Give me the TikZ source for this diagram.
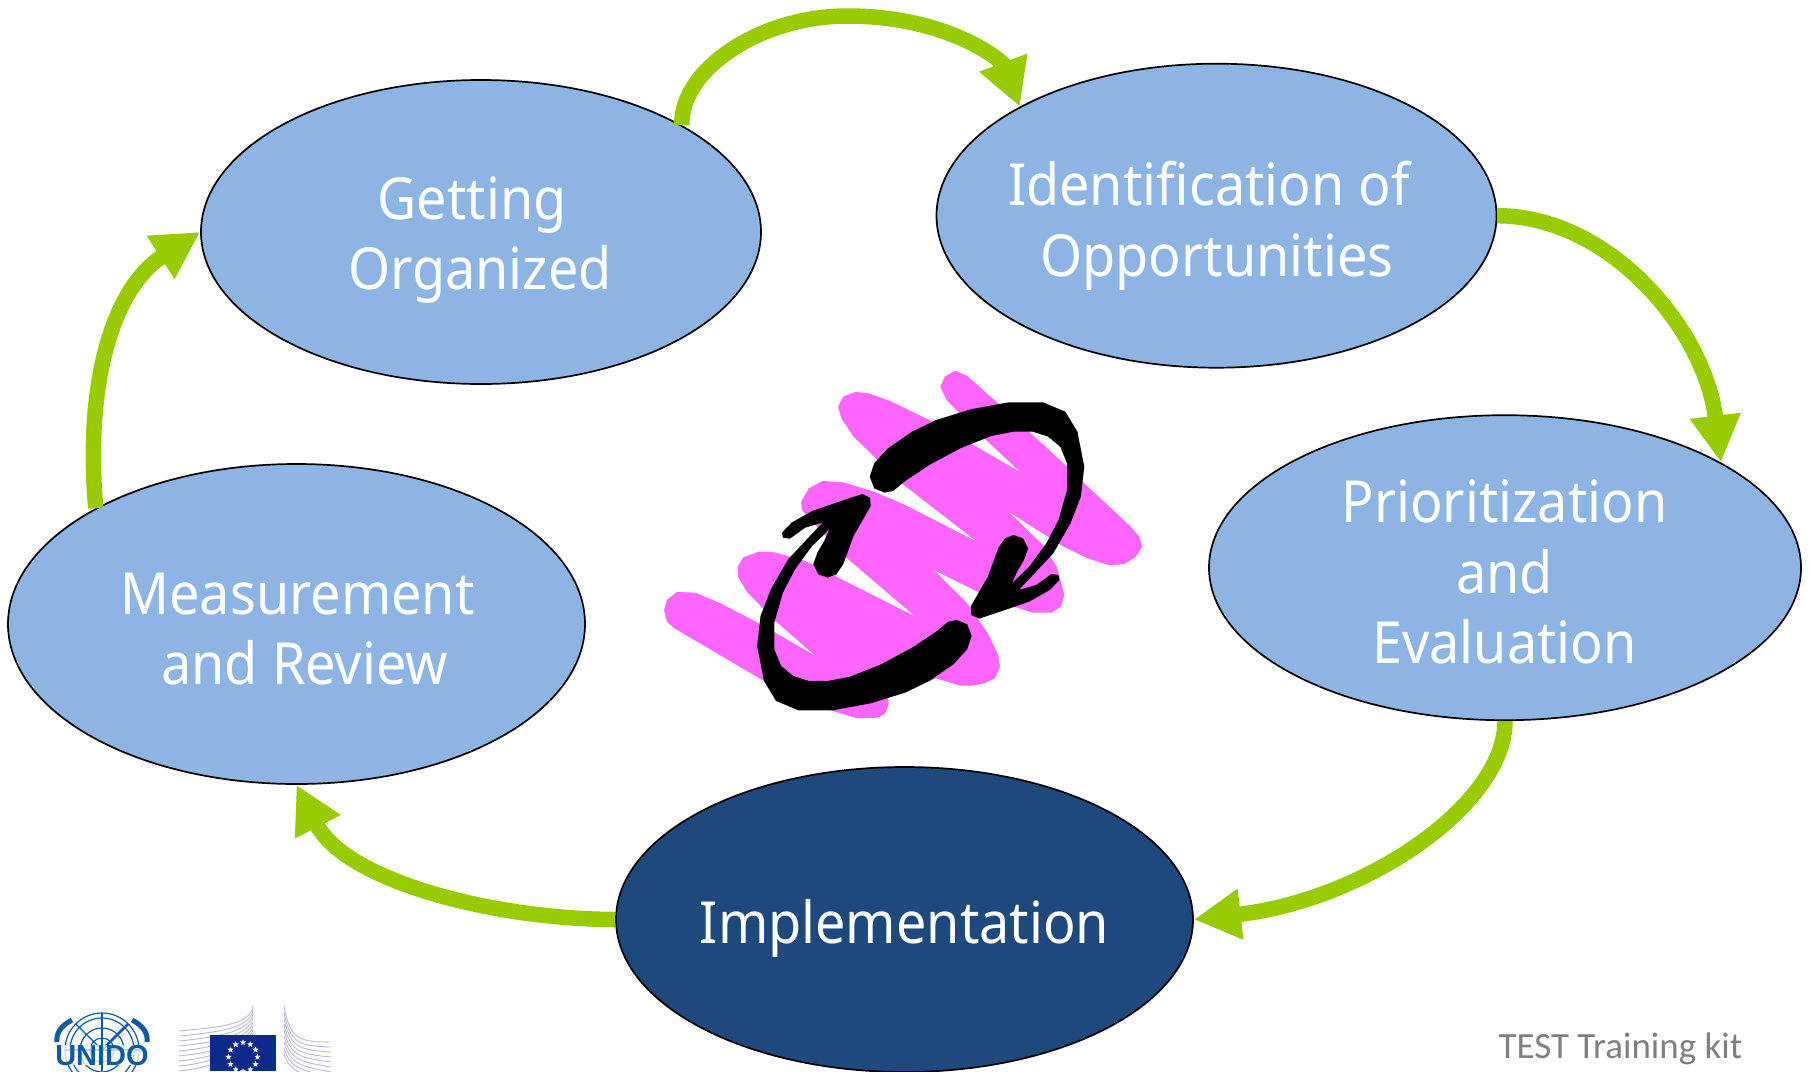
\documentclass[tikz,border=0pt]{standalone}
\usepackage{fontspec}
\setmainfont[FakeStretch=0.93]{Noto Sans}
\newfontfamily\calibrifont{Carlito}
\newfontfamily\logofont{Liberation Sans}
\usetikzlibrary{shapes.geometric,arrows.meta}
\definecolor{nodeblue}{HTML}{8EB4E3}
\definecolor{darkblue}{HTML}{1F497D}
\definecolor{arrowgreen}{HTML}{99CC00}
\definecolor{scribble}{HTML}{FF66FF}
\definecolor{unidoblue}{HTML}{0F5AA5}
\definecolor{eublue}{HTML}{0B2A8A}
\definecolor{bldg}{HTML}{B9BAD6}
\definecolor{kitgrey}{HTML}{808080}
\tikzset{
  stage/.style={ellipse,draw=black,line width=1.7pt,fill=nodeblue,inner sep=0pt},
  stagetext/.style={anchor=base,text=white,inner sep=0pt,font=\fontsize{58}{70}\selectfont},
  flow/.style={draw=arrowgreen,line width=15.5pt,-{Triangle[length=47pt,width=48pt,fill=arrowgreen]}},
  bldgline/.style={draw=bldg,line width=0.9pt},
  eustar/.style={star,star points=5,star point ratio=2.3,fill=white,inner sep=0pt,minimum size=6.5pt}
}
\newcommand{\swirlpath}{(710,428)--(680,415)--(667,380)--(680,340)--(720,295)--(790,245)--(860,210)--(960,178)--(1070,157)--(1170,157)--(1235,185)--(1270,245)--(1290,350)--(1280,440)--(1250,520)--(1200,610)--(1150,665)--(1100,720)--(1150,705)--(1195,672)--(1215,675)--(1218,690)--(1190,720)--(1130,755)--(1060,780)--(985,806)--(962,795)--(960,770)--(1010,680)--(1040,595)--(1060,565)--(1085,555)--(1112,565)--(1127,595)--(1115,630)--(1095,665)--(1080,700)--(1130,650)--(1180,580)--(1215,510)--(1240,420)--(1240,340)--(1220,290)--(1185,260)--(1140,245)--(1085,245)--(1020,258)--(930,295)--(840,345)--(770,393)--(735,423)--cycle}
\begin{document}
\begin{tikzpicture}[x=1pt,y=-1pt]
\clip (0,0) rectangle (1809,1071);
\fill[white] (0,0) rectangle (1809,1071);
% scribble and swirl
\begin{scope}[shift={(640,350)},x=0.3444pt,y=-0.3333pt]
\fill[scribble] (915,62)--(950,78)--(1040,160)--(1130,245)--(1240,350)--(1290,400)--(1420,525)--(1450,560)--(1458,590)--(1440,620)--(1405,643)--(1360,645)--(1300,625)--(1230,590)--(1070,485)--(1170,585)--(1210,650)--(1232,735)--(1222,770)--(1195,788)--(1140,788)--(1085,770)--(980,725)--(853,660)--(950,760)--(1010,850)--(1040,915)--(1045,950)--(1030,985)--(1000,1000)--(965,1007)--(930,1007)--(860,985)--(720,1040)--(722,1065)--(712,1090)--(692,1103)--(630,1105)--(550,1080)--(355,990)--(100,835)--(78,815)--(70,780)--(78,750)--(107,726)--(160,728)--(230,758)--(345,820)--(510,918)--(390,810)--(310,725)--(285,680)--(283,650)--(300,622)--(345,605)--(390,607)--(480,633)--(800,800)--(590,615)--(470,480)--(468,455)--(490,415)--(530,393)--(590,397)--(680,425)--(770,465)--(978,575)--(760,400)--(690,330)--(620,260)--(585,205)--(575,170)--(590,140)--(625,126)--(665,130)--(730,155)--(860,220)--(1105,367)--(1000,265)--(890,150)--(872,110)--(885,80)--cycle;
\fill[black] \swirlpath;
\begin{scope}[shift={(1630,1238)},rotate=180]
\fill[black] \swirlpath;
\end{scope}
\end{scope}
% stages
\node[stage,minimum width=560pt,minimum height=304pt] (get) at (481,232) {};
\node[stage,minimum width=560pt,minimum height=304pt] (ident) at (1216.5,215.7) {};
\node[stage,minimum width=592pt,minimum height=305pt] (prior) at (1505,567.7) {};
\node[stage,fill=darkblue,minimum width=577pt,minimum height=305pt] (impl) at (904.5,919.5) {};
\node[stage,minimum width=577pt,minimum height=320pt] (meas) at (296.5,624) {};
\node[stagetext] (get1) at (472,219) {Getting};
\node[stagetext] (get2) at (480,289.6) {Organized};
\node[stagetext] (ident1) at (1209,205.4) {Identification of};
\node[stagetext] (ident2) at (1217,276) {Opportunities};
\node[stagetext] (prior1) at (1504.5,522.6) {Prioritization};
\node[stagetext] (prior2) at (1504.5,593) {and};
\node[stagetext] (prior3) at (1504.5,663) {Evaluation};
\node[stagetext] (impl1) at (904.5,943) {Implementation};
\node[stagetext] (meas1) at (297.6,614) {Measurement};
\node[stagetext] (meas2) at (304.6,684) {and Review};
% connectors
\draw[flow] (get.28.8) .. controls (680,70) and (760,16) .. (847,16) .. controls (950,16) and (1003,62) .. (ident.151.3);
\draw[flow] (ident.0) .. controls (1610,216) and (1705,330) .. (prior.26.3);
\draw[flow] (prior.270) .. controls (1505,805) and (1365,900) .. (impl.0);
\draw[flow] (impl.180) .. controls (490,919) and (345,880) .. (meas.270);
\draw[flow] (meas.150.7) .. controls (85,390) and (110,290) .. (get.180);
% footer text
\node[anchor=base,font=\calibrifont\fontsize{37}{40}\selectfont,text=kitgrey,inner sep=0pt] (kit) at (1620.5,1058) {TEST Training kit};
% UNIDO logo
\begin{scope}
\clip (50,1010) rectangle (152,1071);
\foreach \r in {12,22,32,37}{\draw[unidoblue,line width=1.2pt] (102,1050) circle (\r);}
\draw[unidoblue,line width=1.2pt] (102,1013)--(102,1071);
\draw[unidoblue,line width=1.2pt] (65,1050)--(139,1050);
\draw[unidoblue,line width=1.2pt] (102,1050)--(76,1024);
\draw[unidoblue,line width=2.5pt] (102,1050)--(128,1024);
\draw[unidoblue,line width=5pt] (57,1042) .. controls (56,1034) and (60,1026) .. (72,1020);
\draw[unidoblue,line width=5pt] (147,1042) .. controls (148,1034) and (144,1026) .. (132,1020);
\end{scope}
\node[font=\logofont\bfseries\fontsize{29}{32}\selectfont,text=unidoblue,fill=white,fill opacity=0.75,text opacity=1,inner sep=0pt,anchor=base] (unido) at (102,1065) {UNIDO};
% Commission logo
\foreach \i in {0,...,8}{
  \draw[bldgline] (179,{1031+\i*5}) .. controls (220,{1027+\i*5}) and (250,{1025+\i*3}) .. (253,{1006+\i*4});
}
\foreach \i in {0,...,8}{
  \draw[bldgline] (284,{1006+\i*6}) .. controls (290,{1040+\i*4}) and (300,{1042+\i*4}) .. (331,{1042+\i*5});
}
\fill[eublue] (210,1035) rectangle (276,1071);
\foreach \a in {0,30,...,330}{
  \node[eustar] (star\a) at ({243+14.5*cos(\a)},{1057+14.5*sin(\a)}) {};
}
\end{tikzpicture}
\end{document}
